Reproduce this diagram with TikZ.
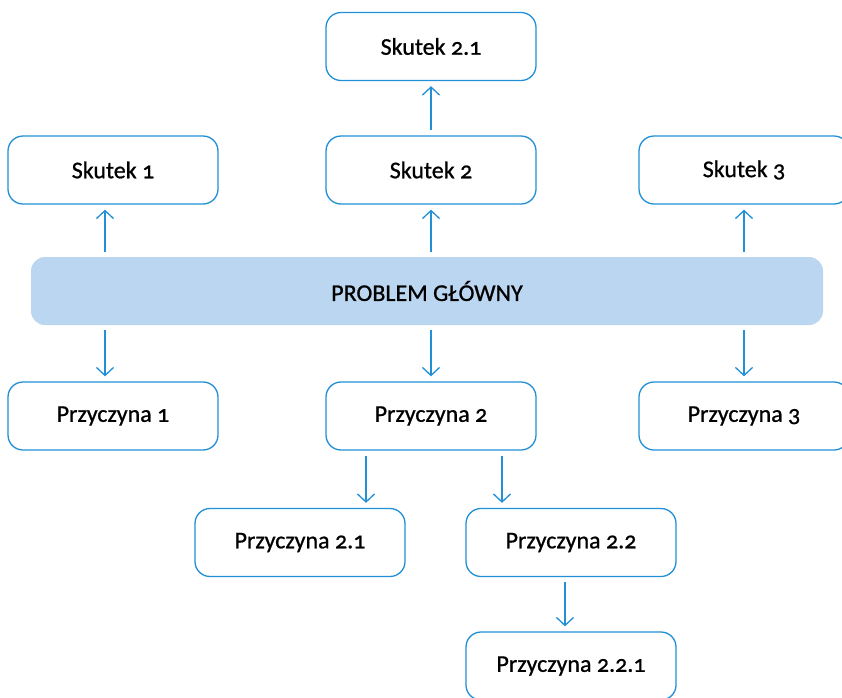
\documentclass[tikz,border=0pt]{standalone}
\usepackage{fontspec}
\setmainfont{Carlito}[Numbers=OldStyle,FakeBold=0.8,BoldFont=Carlito]
\usetikzlibrary{arrows.meta}
\definecolor{bord}{HTML}{2190D6}
\definecolor{pfill}{HTML}{BAD6F0}
\tikzset{
  box/.style={draw=bord, line width=1.3pt, rounded corners=15pt, minimum width=210pt, minimum height=68pt, inner sep=0pt, font=\fontsize{24}{28}\selectfont\bfseries, text=black, fill=white},
  probbox/.style={fill=pfill, rounded corners=14pt, minimum width=792pt, minimum height=68pt, inner sep=0pt, font=\fontsize{24}{28}\selectfont\bfseries},
  arr/.style={draw=bord, line width=1.3pt, -{Straight Barb[length=8pt,width=17pt,line width=1.3pt]}, shorten <=5pt, shorten >=5pt}
}
\begin{document}
\begin{tikzpicture}[x=1pt,y=-1pt]
\useasboundingbox (0,0) rectangle (842,697);
\begin{scope}
\clip (0,0) rectangle (842,697);
\node[box] (s21) at (431,46.5) {Skutek 2.1};
\node[box] (s1) at (113,170) {Skutek 1};
\node[box] (s2) at (431,170) {Skutek 2};
\node[box] (s3) at (744,170) {Skutek 3};
\node[probbox] (prob) at (427,291) {PROBLEM GŁÓWNY};
\node[box] (p1) at (113,416) {Przyczyna 1};
\node[box] (p2) at (431,416) {Przyczyna 2};
\node[box] (p3) at (744,416) {Przyczyna 3};
\node[box] (p21) at (300,542.5) {Przyczyna 2.1};
\node[box] (p22) at (571,542.5) {Przyczyna 2.2};
\node[box] (p221) at (571,666) {Przyczyna 2.2.1};
\end{scope}
\draw[arr] ([xshift=-8pt]s1.south |- prob.north) -- ([xshift=-8pt]s1.south);
\draw[arr] (s2.south |- prob.north) -- (s2.south);
\draw[arr] (s3.south |- prob.north) -- (s3.south);
\draw[arr] (s2.north) -- (s21.south);
\draw[arr] ([xshift=-8pt]p1.north |- prob.south) -- ([xshift=-8pt]p1.north);
\draw[arr] (p2.north |- prob.south) -- (p2.north);
\draw[arr] (p3.north |- prob.south) -- (p3.north);
\draw[arr] ([xshift=-65pt]p2.south) -- ([xshift=-65pt]p2.south |- p21.north);
\draw[arr] ([xshift=71pt]p2.south) -- ([xshift=71pt]p2.south |- p22.north);
\draw[arr] ([xshift=-6pt]p22.south) -- ([xshift=-6pt]p221.north);
\end{tikzpicture}
\end{document}
